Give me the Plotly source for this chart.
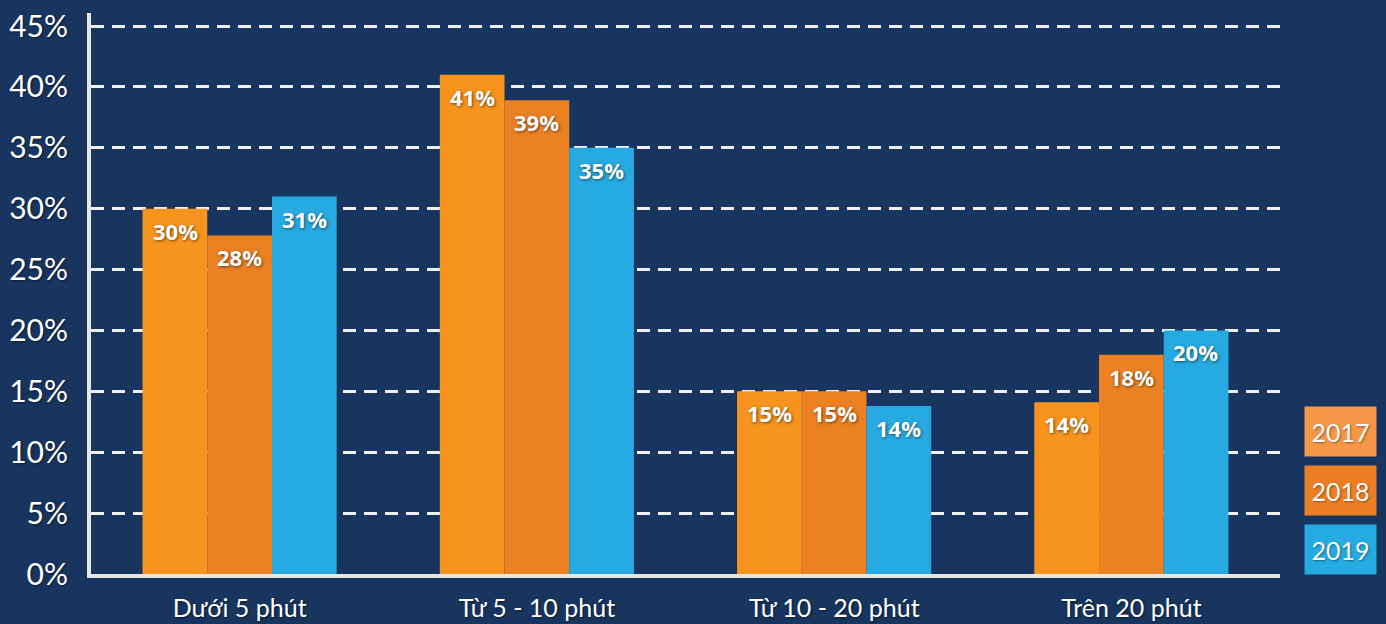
import plotly.graph_objects as go

categories = ["Dưới 5 phút", "Từ 5 - 10 phút", "Từ 10 - 20 phút", "Trên 20 phút"]
years = ["2017", "2018", "2019"]
v2017 = [30, 41, 15, 14.1]
v2018 = [27.8, 38.9, 15, 18]
v2019 = [31, 35, 13.8, 20]
series = [v2017, v2018, v2019]

bar_colors = ["#F7941E", "#EC8123", "#27AAE1"]
legend_colors = ["#F79646", "#EC7F23", "#25AAE1"]
BG = "#17355E"

fig = go.Figure()
for name, vals, col in zip(years, series, bar_colors):
    fig.add_trace(go.Bar(x=categories, y=vals, name=name, marker=dict(color=col, line=dict(width=0)),
                         showlegend=False))

bar_px = 64.5
annotations = []
for i, vals in enumerate(series):
    for c, v in zip(categories, vals):
        annotations.append(dict(
            x=c, y=v, xref="x", yref="y", text=f"<b>{round(v):.0f}%</b>",
            showarrow=False, xshift=(i - 1) * bar_px, yshift=-5, yanchor="top",
            font=dict(family="Open Sans", size=22, color="white",
                      shadow="1px 1px 3px rgba(0,0,0,0.55)")))

leg_y = [0.254, 0.149, 0.044]
for name, col, yy in zip(years, legend_colors, leg_y):
    annotations.append(dict(
        x=1.0505, y=yy, xref="paper", yref="paper", text=name, showarrow=False,
        bgcolor=col, width=71, height=49, borderpad=0, xanchor="center", yanchor="middle",
        font=dict(family="Lato", size=25, color="white", shadow="1px 1px 2px rgba(0,0,0,0.4)")))

fig.update_layout(
    width=1386, height=624,
    paper_bgcolor=BG, plot_bgcolor=BG,
    margin=dict(l=91, r=106, t=13, b=50),
    barmode="group", bargap=0.347, bargroupgap=0,
    annotations=annotations,
    xaxis=dict(showline=True, linecolor="#E6E6E6", linewidth=4, showgrid=False,
               ticks="", ticklabelstandoff=9, automargin=False,
               tickfont=dict(family="Lato", size=25, color="white",
                             shadow="1px 1px 2px rgba(0,0,0,0.5)")),
    yaxis=dict(range=[0, 46.07], dtick=5, ticksuffix="%", showline=True, linecolor="#E6E6E6",
               linewidth=4, showgrid=True, gridcolor="#F0F0F0", gridwidth=2.5,
               griddash="13px,8px", zeroline=False, ticks="", ticklabelstandoff=13,
               automargin=False,
               tickfont=dict(family="Lato", size=30, color="white",
                             shadow="1px 1px 2px rgba(0,0,0,0.5)")),
)

fig.write_html("out.html")
